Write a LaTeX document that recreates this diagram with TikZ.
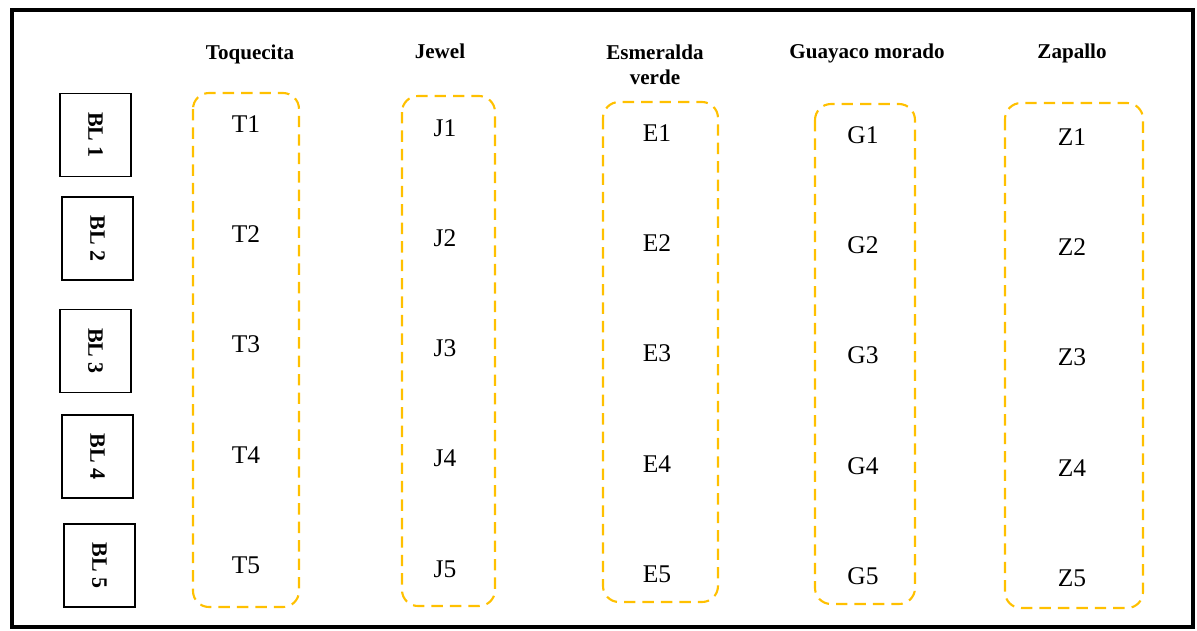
\documentclass[tikz,border=0pt]{standalone}
\usepackage{fontspec}
\setmainfont{Liberation Serif}
\usepackage{tikz}
\usetikzlibrary{arrows}
\definecolor{gold}{RGB}{255,192,0}

\begin{document}
\begin{tikzpicture}[x=0.02cm, y=-0.02cm, node distance=2.205cm]
      \tikzstyle{block} = [draw, line width=0.8pt, rotate=-90, font=\fontsize{12.5}{15}\selectfont\bfseries, minimum width=1.66cm, minimum height=1.42cm, inner sep=0pt]
      \tikzstyle{head} = [font=\fontsize{12}{14.2}\selectfont\bfseries, align=center, anchor=base]
      \tikzstyle{plot} = [font=\fontsize{14.5}{17}\selectfont, inner sep=1pt]
      \tikzstyle{group} = [draw=gold, line width=1.2pt, dash pattern=on 6.5pt off 4pt, rounded corners=0.32cm]
      \useasboundingbox (0,0) rectangle (1197,630);
      \draw[line width=2.2pt] (12,10) rectangle (1193,627);
      \begin{scope}
	\path
	node[block] at (95.5,135) (bl1) {BL 1}
	node[block] at (97.5,238.5) (bl2) {BL 2}
	node[block] at (95.5,351) (bl3) {BL 3}
	node[block] at (97.5,456.5) (bl4) {BL 4}
	node[block] at (99.5,565.5) (bl5) {BL 5}
	node[head] at (250,59) (toq) {Toquecita}
	node[head] at (440,58) (jew) {Jewel}
	node[head] at (655,84) (esm) {Esmeralda\\verde}
	node[head] at (867,58) (gua) {Guayaco morado}
	node[head] at (1072,58) (zap) {Zapallo}
	;
	\path
	node[plot] at (246,124) (t1) {T1}
	node[plot, below of=t1] (t2) {T2}
	node[plot, below of=t2] (t3) {T3}
	node[plot, below of=t3] (t4) {T4}
	node[plot, below of=t4] (t5) {T5}
	node[plot] at (445,128) (j1) {J1}
	node[plot, below of=j1] (j2) {J2}
	node[plot, below of=j2] (j3) {J3}
	node[plot, below of=j3] (j4) {J4}
	node[plot, below of=j4] (j5) {J5}
	node[plot] at (657,133) (e1) {E1}
	node[plot, below of=e1] (e2) {E2}
	node[plot, below of=e2] (e3) {E3}
	node[plot, below of=e3] (e4) {E4}
	node[plot, below of=e4] (e5) {E5}
	node[plot] at (863,135) (g1) {G1}
	node[plot, below of=g1] (g2) {G2}
	node[plot, below of=g2] (g3) {G3}
	node[plot, below of=g3] (g4) {G4}
	node[plot, below of=g4] (g5) {G5}
	node[plot] at (1072,137) (z1) {Z1}
	node[plot, below of=z1] (z2) {Z2}
	node[plot, below of=z2] (z3) {Z3}
	node[plot, below of=z3] (z4) {Z4}
	node[plot, below of=z4] (z5) {Z5}
	;
	\draw[group] (193,93) rectangle (299,607);
	\draw[group] (402,96) rectangle (495,606);
	\draw[group] (603,102) rectangle (718,602);
	\draw[group] (815,104) rectangle (915,604);
	\draw[group] (1005,103) rectangle (1143,608);
      \end{scope}
    \end{tikzpicture}
\end{document}
